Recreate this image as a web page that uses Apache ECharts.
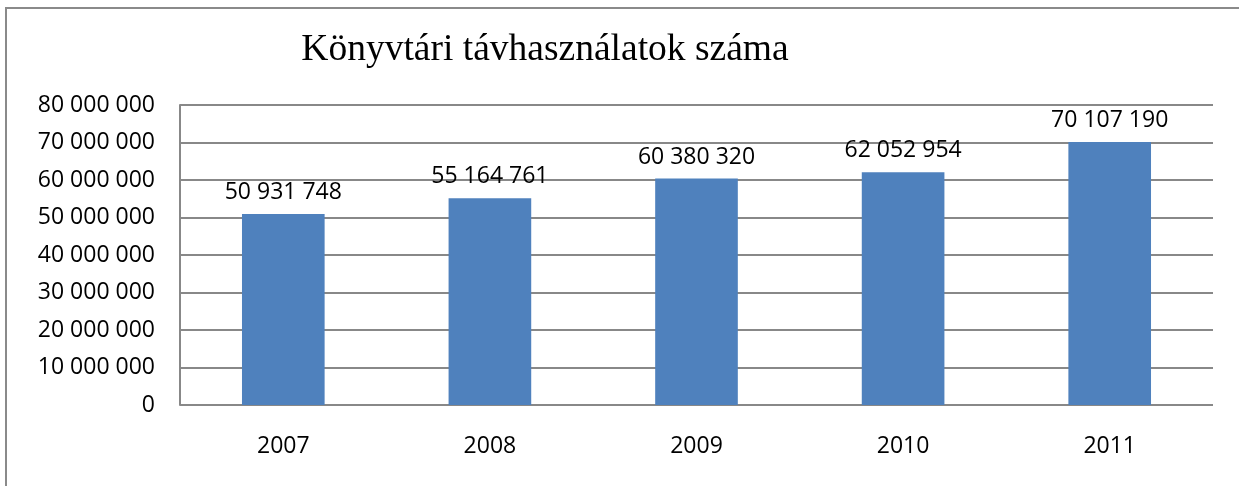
<!DOCTYPE html>
<html><head><meta charset="utf-8">
<script src="https://cdn.jsdelivr.net/npm/echarts@6/dist/echarts.min.js"></script>
<style>html,body{margin:0;padding:0;background:#fff}#c{width:1239px;height:486px}</style>
</head><body><div id="c"></div>
<script>
const title = 'Könyvtári távhasználatok száma';
const categories = ['2007', '2008', '2009', '2010', '2011'];
const values = [50931748, 55164761, 60380320, 62052954, 70107190];
const yTicks = [0, 10000000, 20000000, 30000000, 40000000, 50000000, 60000000, 70000000, 80000000];

function fmt(v) { return String(v).replace(/\B(?=(\d{3})+(?!\d))/g, ' '); }

const chart = echarts.init(document.getElementById('c'), null, {renderer: 'canvas'});
const font = '"Open Sans", sans-serif';
chart.setOption({
  animation: false,
  title: {
    text: title, left: 540, top: 26, textAlign: 'center',
    textStyle: {fontFamily: '"Liberation Serif", serif', fontSize: 37.5, fontWeight: 'normal', color: '#000'}
  },
  graphic: [{
    type: 'polyline', shape: {points: [[6, 500], [6, 8], [1250, 8]]},
    style: {fill: null, stroke: '#8a8a8a', lineWidth: 2}, silent: true
  }],
  grid: {left: 180, right: 26, top: 105, bottom: 81, containLabel: false},
  xAxis: {
    type: 'category', data: categories,
    axisLine: {show: false}, axisTick: {show: false},
    axisLabel: {fontFamily: font, fontSize: 23, color: '#000', margin: 30}
  },
  yAxis: {
    type: 'value', min: yTicks[0], max: yTicks[yTicks.length - 1], interval: yTicks[1] - yTicks[0],
    axisLine: {show: true, lineStyle: {color: '#888', width: 2}}, axisTick: {show: false},
    splitLine: {lineStyle: {color: '#888', width: 2}},
    axisLabel: {fontFamily: font, fontSize: 23, color: '#000', margin: 25, formatter: fmt}
  },
  series: [{
    type: 'bar', data: values, barWidth: '40%',
    itemStyle: {color: '#4F81BD'},
    label: {show: true, position: 'top', distance: 10, fontFamily: font, fontSize: 23, color: '#000', formatter: p => fmt(p.value)}
  }]
});
</script></body></html>
